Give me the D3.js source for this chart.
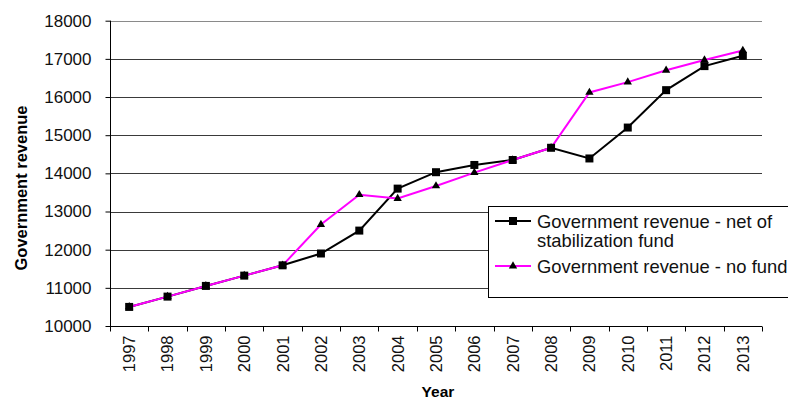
<!DOCTYPE html>
<html>
<head>
<meta charset="utf-8">
<script src="https://cdn.jsdelivr.net/npm/d3@7/dist/d3.min.js"></script>
<style>
  html, body { margin: 0; padding: 0; background: #fff; }
  svg { display: block; font-family: "Liberation Sans", Arial, sans-serif; }
</style>
</head>
<body>
<svg id="chart" width="788" height="400"></svg>
<script>
// Government revenue, 1997-2013
const years = ["1997","1998","1999","2000","2001","2002","2003","2004","2005",
               "2006","2007","2008","2009","2010","2011","2012","2013"];
const netOfFund = [10500, 10770, 11050, 11320, 11590, 11900, 12500, 13600, 14030,
                   14220, 14350, 14670, 14390, 15200, 16180, 16810, 17080];
const noFund    = [10500, 10770, 11050, 11320, 11590, 12660, 13440, 13340, 13670,
                   14020, 14350, 14670, 16120, 16390, 16700, 16970, 17220];
const yTicks = [10000, 11000, 12000, 13000, 14000, 15000, 16000, 17000, 18000];

const svg = d3.select("#chart");
const plotLeft = 110, plotRight = 762, plotTop = 20.7, plotBottom = 326;

const x = d3.scaleBand().domain(years).range([plotLeft, plotRight]).padding(0);
const y = d3.scaleLinear().domain([10000, 18000]).range([plotBottom, plotTop]);
const cx = d => x(d) + x.bandwidth() / 2;

// horizontal gridlines
svg.append("g").selectAll("line").data(yTicks.filter(t => t > 10000)).join("line")
  .attr("x1", plotLeft).attr("x2", plotRight)
  .attr("y1", d => Math.round(y(d)) + 0.5).attr("y2", d => Math.round(y(d)) + 0.5)
  .attr("stroke", d => d === 18000 ? "#8a8a8a" : "#3a3a3a")
  .attr("stroke-width", 1);

// y axis
const yAxis = svg.append("g")
  .attr("transform", `translate(${plotLeft + 0.5},0)`)
  .call(d3.axisLeft(y).tickValues(yTicks).tickSize(5).tickPadding(14).tickFormat(d3.format("d")));
yAxis.select(".domain").attr("stroke", "#000").attr("d", `M0,${y(18000)}V${plotBottom}`);
yAxis.selectAll(".tick line").attr("stroke", "#000");
yAxis.selectAll(".tick text").attr("fill", "#111").style("font-size", "17px")
  .attr("font-family", "'Liberation Sans', Arial, sans-serif");

// x axis: ticks sit on the band boundaries
const boundaries = years.map(d => x(d)).concat([plotRight]);
const xAxis = svg.append("g").attr("transform", `translate(0,${Math.round(plotBottom) + 0.5})`);
xAxis.append("line").attr("x1", plotLeft).attr("x2", plotRight).attr("stroke", "#000");
xAxis.selectAll("line.tk").data(boundaries).join("line").attr("class", "tk")
  .attr("x1", d => Math.round(d) + 0.5).attr("x2", d => Math.round(d) + 0.5)
  .attr("y1", 0).attr("y2", 5).attr("stroke", "#000");
xAxis.selectAll("text").data(years).join("text")
  .attr("transform", d => `translate(${cx(d)},9) rotate(-90)`)
  .attr("text-anchor", "end").attr("dy", "0.36em")
  .style("font-size", "16.5px").attr("fill", "#111")
  .text(d => d);

// axis titles
svg.append("text")
  .attr("transform", "translate(27,188) rotate(-90)")
  .attr("text-anchor", "middle")
  .style("font-size", "16.5px").style("font-weight", "bold")
  .text("Government revenue");
svg.append("text")
  .attr("x", 438).attr("y", 397)
  .attr("text-anchor", "middle")
  .style("font-size", "15.5px").style("font-weight", "bold")
  .text("Year");

// series lines
const line = d3.line().x((v, i) => cx(years[i])).y(v => y(v));
svg.append("path").datum(netOfFund).attr("d", line)
  .attr("fill", "none").attr("stroke", "#000").attr("stroke-width", 2);
svg.append("path").datum(noFund).attr("d", line)
  .attr("fill", "none").attr("stroke", "#ff00ff").attr("stroke-width", 2);

// markers
const sq = d3.symbol().type(d3.symbolSquare).size(64);
const tri = d3.symbol().type(d3.symbolTriangle).size(30);
svg.append("g").selectAll("path").data(noFund).join("path")
  .attr("d", tri).attr("fill", "#000")
  .attr("transform", (v, i) => `translate(${cx(years[i])},${y(v)})`);
svg.append("g").selectAll("path").data(netOfFund).join("path")
  .attr("d", sq).attr("fill", "#000")
  .attr("transform", (v, i) => `translate(${cx(years[i])},${y(v)})`);

// legend
const lg = svg.append("g");
lg.append("rect").attr("x", 488.5).attr("y", 206.5).attr("width", 320).attr("height", 91)
  .attr("fill", "#fff").attr("stroke", "#000").attr("stroke-width", 1);
const rows = [
  { ly: 221, color: "#000", sym: sq, lines: ["Government revenue - net of", "stabilization fund"], base: 228 },
  { ly: 266, color: "#ff00ff", sym: tri, lines: ["Government revenue - no fund"], base: 272.5 }
];
rows.forEach(r => {
  lg.append("line").attr("x1", 495).attr("x2", 531).attr("y1", r.ly).attr("y2", r.ly)
    .attr("stroke", r.color).attr("stroke-width", 2);
  lg.append("path").attr("d", r.sym).attr("fill", "#000")
    .attr("transform", `translate(513,${r.ly})`);
  r.lines.forEach((t, k) => {
    lg.append("text").attr("x", 537).attr("y", r.base + k * 19)
      .style("font-size", "18.4px").attr("fill", "#111").text(t);
  });
});
</script>
</body>
</html>
